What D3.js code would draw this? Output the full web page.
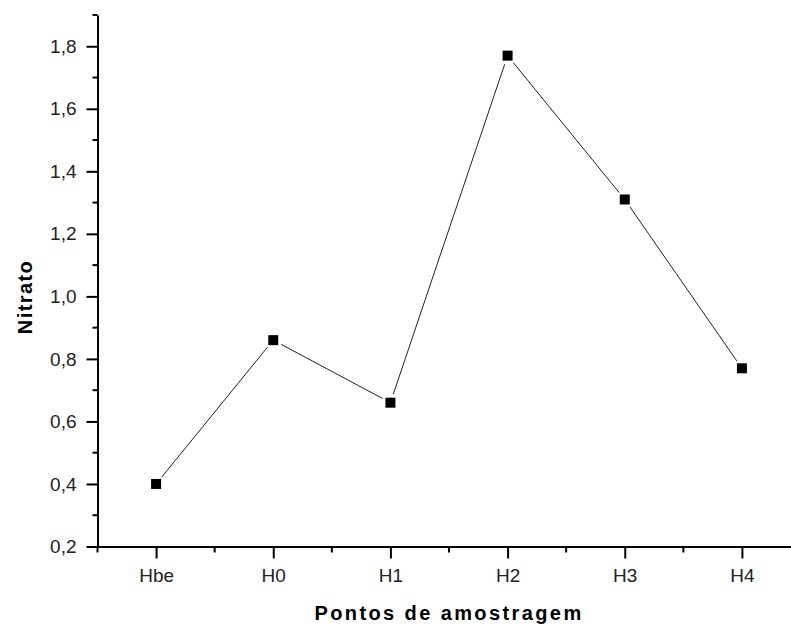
<!DOCTYPE html>
<html>
<head>
<meta charset="utf-8">
<script src="https://cdn.jsdelivr.net/npm/d3@7"></script>
<style>
  html, body { margin: 0; padding: 0; background: #fff; }
  svg { display: block; }
  .tick text { font-family: "Liberation Sans", Arial, sans-serif; font-size: 19px; fill: #222; }
  .axis-title { font-family: "Liberation Sans", Arial, sans-serif; font-weight: bold; font-size: 20px; fill: #000; }
</style>
</head>
<body>
<svg id="chart" width="791" height="627"></svg>
<script>
// Nitrate concentration at each sampling point
const categories = ["Hbe", "H0", "H1", "H2", "H3", "H4"];
const nitrato = [0.40, 0.86, 0.66, 1.77, 1.31, 0.77];
const yMajorTicks = [0.2, 0.4, 0.6, 0.8, 1.0, 1.2, 1.4, 1.6, 1.8];
const yMinorTicks = [0.3, 0.5, 0.7, 0.9, 1.1, 1.3, 1.5, 1.7, 1.9];
const xTitle = "Pontos de amostragem";
const yTitle = "Nitrato";

const svg = d3.select("#chart");

// categories sit at integer positions; the axis runs half a step beyond each end
const x = d3.scaleLinear().domain([-0.5, 5.5]).range([97.5, 800.5]);
const y = d3.scaleLinear().domain([0.2, 1.9]).range([546.5, 15]);

const fmt = d => d3.format(".1f")(d).replace(".", ",");

// ---- Y axis ----
const yAxis = svg.append("g").attr("transform", `translate(${x(-0.5)},0)`);
yAxis.call(d3.axisLeft(y).tickValues(yMajorTicks).tickFormat(fmt)
  .tickSize(11).tickSizeOuter(0).tickPadding(10));
yAxis.append("g").selectAll("line").data(yMinorTicks).join("line")
  .attr("x1", -5).attr("x2", 0)
  .attr("y1", d => y(d)).attr("y2", d => y(d));

// ---- X axis ----
const xAxis = svg.append("g").attr("transform", `translate(0,${y(0.2)})`);
xAxis.call(d3.axisBottom(x).tickValues(d3.range(categories.length))
  .tickFormat(i => categories[i]).tickSize(12).tickSizeOuter(0).tickPadding(10));
xAxis.append("g").selectAll("line")
  .data(d3.range(categories.length + 1).map(i => i - 0.5)).join("line")
  .attr("x1", d => x(d)).attr("x2", d => x(d))
  .attr("y1", 0).attr("y2", 6);

svg.selectAll(".domain, .tick line").attr("stroke", "#000").attr("stroke-width", 2);
[yAxis, xAxis].forEach(g => g.selectAll("g > g > line").attr("stroke", "#000").attr("stroke-width", 2));

// ---- connecting line, leaving a small gap around each marker ----
const pts = nitrato.map((v, i) => [x(i), y(v)]);
const gap = 9;
const segs = d3.pairs(pts).map(([a, b]) => {
  const dx = b[0] - a[0], dy = b[1] - a[1];
  const len = Math.hypot(dx, dy);
  const ux = dx / len, uy = dy / len;
  return [a[0] + ux * gap, a[1] + uy * gap, b[0] - ux * gap, b[1] - uy * gap];
});
svg.append("g").selectAll("line").data(segs).join("line")
  .attr("x1", d => d[0]).attr("y1", d => d[1])
  .attr("x2", d => d[2]).attr("y2", d => d[3])
  .attr("stroke", "#222").attr("stroke-width", 1);

// ---- square markers ----
const m = 10;
svg.append("g").selectAll("rect").data(nitrato).join("rect")
  .attr("x", (d, i) => x(i) - m / 2)
  .attr("y", d => y(d) - m / 2)
  .attr("width", m).attr("height", m)
  .attr("fill", "#000");

// ---- axis titles ----
svg.append("text").attr("class", "axis-title")
  .attr("x", 449).attr("y", 620)
  .attr("text-anchor", "middle")
  .style("letter-spacing", "2.4px")
  .text(xTitle);

svg.append("text").attr("class", "axis-title")
  .attr("transform", "translate(31.5,297) rotate(-90)")
  .attr("text-anchor", "middle")
  .style("letter-spacing", "1.4px")
  .text(yTitle);
</script>
</body>
</html>
